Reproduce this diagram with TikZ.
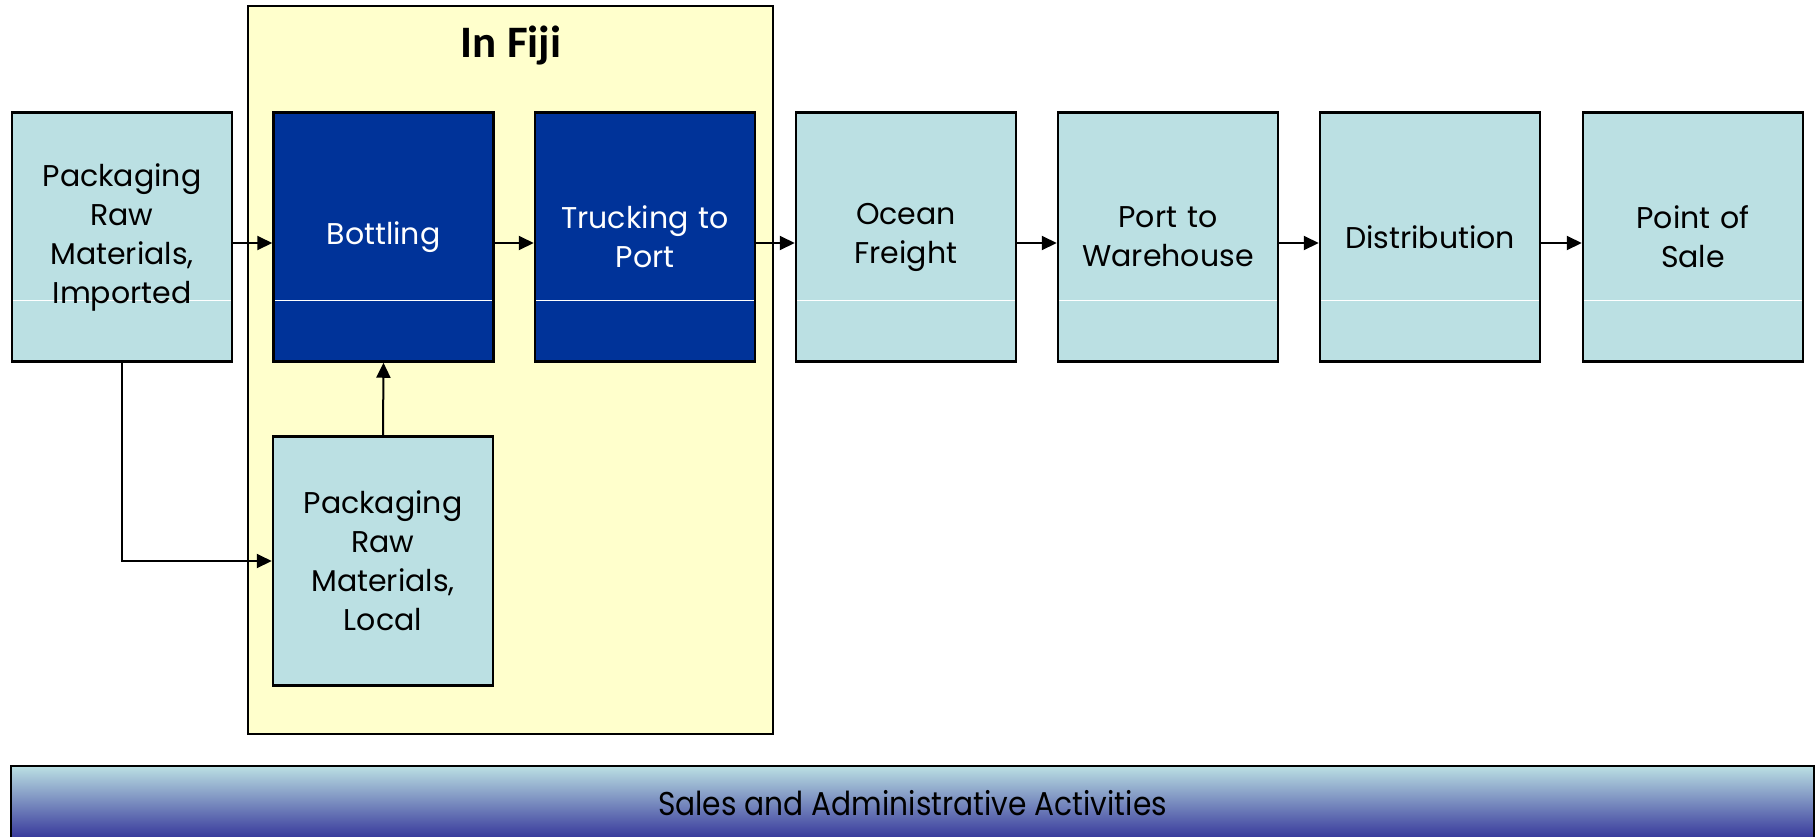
\documentclass[tikz,border=0pt]{standalone}
\usepackage{fontspec}
\setmainfont{Poppins}
\newfontfamily\titlefont{Carlito}
\usepackage{tikz}
\usetikzlibrary{arrows.meta,positioning,calc}
\definecolor{paleblue}{HTML}{BBE0E3}
\definecolor{deepblue}{HTML}{003399}
\definecolor{fijiyellow}{HTML}{FFFFCC}
\definecolor{barblue}{HTML}{333399}

\begin{document}
\begin{tikzpicture}[
				x = 1pt, y = -1pt,
				every node/.style = {font = \fontsize{30}{39}\selectfont},
				stage/.style = {draw, line width = 2.5pt, minimum width = 220pt, minimum height = 249pt,
				                text width = 210pt, align = center, inner sep = 0pt, fill = paleblue,
				                path picture = {\draw [white, line width = 1pt]
				                  ([yshift = 61pt]path picture bounding box.south west) --
				                  ([yshift = 61pt]path picture bounding box.south east);}},
				fijistage/.style = {stage, fill = deepblue, text = white},
				flow/.style = {line width = 2pt, -{Triangle[length = 15pt, width = 14pt]}}
				]
				\useasboundingbox (0,0) rectangle (1818,836);
				
				% the box round the steps in Fiji
				\node [draw, line width = 2.5pt, fill = fijiyellow, minimum width = 525pt, minimum height = 728pt] (fiji) at (510.5,370) {};
				\node [font = \titlefont\bfseries\fontsize{45}{50}\selectfont] (fijititle) at (511,46) {In Fiji};
				
				\node [stage] (imp) at (122,237) {Packaging\\Raw\\Materials,\\Imported};
				\node [fijistage] (bottl) at (383.5,237) {Bottling};
				\node [fijistage] (truck) at (645,237) {Trucking to\\Port};
				\node [stage] (ocean) at (906,237) {Ocean\\Freight};
				\node [stage] (port) at (1168,237) {Port to\\Warehouse};
				\node [stage] (distr) at (1430,237) {Distribution};
				\node [stage] (sale) at (1693,237) {Point of\\Sale};
				\node [stage, path picture = {}] (local) at (383,561) {Packaging\\Raw\\Materials,\\Local};
				
				\draw [flow] ([yshift = -6pt]imp.east) -- ([yshift = -6pt]bottl.west);
				\draw [flow] ([yshift = -6pt]bottl.east) -- ([yshift = -6pt]truck.west);
				\draw [flow] ([yshift = -6pt]truck.east) -- ([yshift = -6pt]ocean.west);
				\draw [flow] ([yshift = -6pt]ocean.east) -- ([yshift = -6pt]port.west);
				\draw [flow] ([yshift = -6pt]port.east) -- ([yshift = -6pt]distr.west);
				\draw [flow] ([yshift = -6pt]distr.east) -- ([yshift = -6pt]sale.west);
				\draw [flow] (local.north) -- (bottl.south);
				\draw [flow] (imp.south) |- (local.west);
				
				% sales bar along the bottom
				\node [draw, line width = 2.5pt, top color = paleblue, bottom color = barblue, minimum width = 1803pt, minimum height = 74pt,
				       inner sep = 0pt] (sales) at (912.5,803) {\raisebox{-4pt}{\scalebox{0.9}[1]{\fontsize{33}{40}\selectfont Sales and Administrative Activities}}};
			\end{tikzpicture}
\end{document}
